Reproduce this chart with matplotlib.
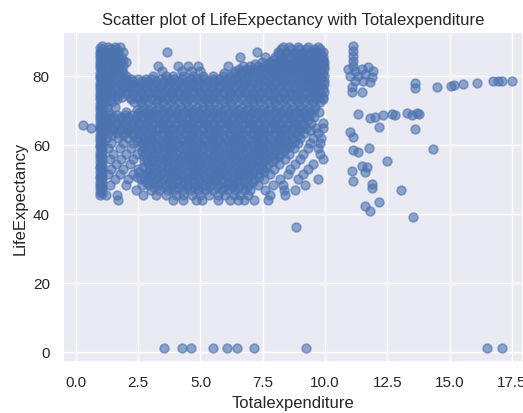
import matplotlib
matplotlib.use("Agg")
import matplotlib.pyplot as plt
import seaborn as sns

# life expectancy row -> total expenditure values
upper_rows = {
    88.5: [1.3, 1.55, 1.75, 8.3, 8.55, 8.9, 9.3, 9.7],
    87.75: [1.35, 1.6, 8.25, 8.65, 8.95, 9.25, 9.55, 9.8],
    87.0: [1.2, 1.45, 1.7, 1.9, 3.64, 7.26, 8.1, 8.45, 8.8, 9.1, 9.4, 9.65, 9.9],
    86.25: [1.35, 1.65, 8.15, 8.45, 8.75, 9.05, 9.3, 9.6, 9.85],
    85.5: [1.25, 1.5, 1.8, 6.59, 7.59, 8.0, 8.3, 8.6, 8.9, 9.15, 9.45, 9.7, 9.9],
    84.75: [1.35, 1.65, 1.9, 7.9, 8.25, 8.55, 8.85, 9.1, 9.4, 9.65, 9.9],
    84.0: [1.2, 1.5, 1.75, 2.0, 7.45, 7.8, 8.1, 8.4, 8.7, 8.95, 9.25, 9.5, 9.75, 9.95],
    83.4: [1.45, 1.75, 7.2, 7.7, 8.0, 8.25, 8.55, 8.85, 9.15, 9.45, 9.7, 9.9],
    82.8: [1.3, 1.6, 1.9, 3.3, 4.1, 4.5, 4.9, 6.12, 6.7, 7.0, 7.3, 7.55, 7.85, 8.1, 8.4,
           8.7, 9.0, 9.3, 9.55, 9.8, 9.95],
    82.1: [1.4, 1.7, 6.55, 6.85, 7.15, 7.45, 7.75, 8.05, 8.35, 8.65, 8.95, 9.25, 9.5,
           9.75, 9.95],
    81.5: [1.25, 1.55, 1.85, 3.45, 4.25, 4.6, 5.0, 6.4, 6.7, 7.0, 7.3, 7.6, 7.9, 8.2,
           8.5, 8.8, 9.1, 9.35, 9.6, 9.85],
    80.75: [1.35, 1.6, 1.9, 5.95, 6.35, 6.65, 6.95, 7.25, 7.55, 7.9, 8.15, 8.45, 8.8,
            9.05, 9.35, 9.65, 9.9],
    80.0: [1.2, 1.45, 1.75, 2.0, 3.1, 3.6, 3.9, 4.3, 4.7, 5.1, 5.5, 5.9, 6.2, 6.5, 6.85,
           7.1, 7.4, 7.75, 8.0, 8.3, 8.65, 8.9, 9.2, 9.5, 9.75, 9.95],
}

middle_rows = {
    79.25: [1.35, 1.65, 1.95, 2.2, 2.5, 2.8, 3.05, 3.4, 3.7, 3.95, 4.25, 4.6, 4.85, 5.15,
            5.5, 5.75, 6.05, 6.4, 6.65, 6.95, 7.3, 7.55, 7.85, 8.2, 8.45, 8.75, 9.1,
            9.35, 9.6, 9.85],
    78.5: [1.25, 1.5, 1.8, 2.05, 2.3, 2.65, 2.9, 3.2, 3.55, 3.8, 4.1, 4.45, 4.7, 5.0,
           5.35, 5.6, 5.9, 6.25, 6.5, 6.8, 7.15, 7.4, 7.7, 8.05, 8.3, 8.6, 8.95, 9.2,
           9.5, 9.7, 9.95],
    77.75: [1.2, 1.45, 1.75, 2.05, 2.3, 2.6, 2.9, 3.2, 3.5, 3.75, 4.1, 4.4, 4.65, 5.0,
            5.3, 5.55, 5.9, 6.2, 6.45, 6.8, 7.1, 7.35, 7.7, 8.0, 8.25, 8.6, 8.9, 9.15,
            9.45, 9.75, 9.95],
    77.0: [1.3, 1.6, 1.9, 2.2, 2.45, 2.75, 3.05, 3.35, 3.7, 3.95, 4.25, 4.55, 4.85, 5.2,
           5.45, 5.75, 6.05, 6.35, 6.7, 6.95, 7.25, 7.55, 7.85, 8.2, 8.45, 8.75, 9.05,
           9.35, 9.6, 9.85],
    76.25: [1.35, 1.6, 1.9, 2.2, 2.5, 2.8, 3.1, 3.35, 3.65, 3.95, 4.25, 4.55, 4.9, 5.15,
            5.45, 5.75, 6.05, 6.35, 6.65, 6.95, 7.25, 7.6, 7.85, 8.15, 8.5, 8.75, 9.05,
            9.35, 9.65, 9.9],
    75.5: [1.2, 1.45, 1.75, 2.05, 2.35, 2.6, 2.95, 3.2, 3.5, 3.85, 4.1, 4.4, 4.75, 5.0,
           5.3, 5.65, 5.9, 6.2, 6.55, 6.8, 7.1, 7.45, 7.7, 8.0, 8.35, 8.6, 8.9, 9.25,
           9.5, 9.75, 9.95],
    74.75: [1.2, 1.45, 1.7, 2.0, 2.3, 2.65, 2.9, 3.2, 3.5, 3.8, 4.15, 4.4, 4.7, 5.0,
            5.3, 5.6, 5.9, 6.2, 6.5, 6.85, 7.1, 7.4, 7.7, 8.0, 8.3, 8.65, 8.9, 9.2,
            9.5, 9.8],
    74.0: [1.3, 1.6, 1.85, 2.15, 2.5, 2.75, 3.05, 3.4, 3.65, 3.95, 4.3, 4.55, 4.85, 5.2,
           5.45, 5.75, 6.1, 6.35, 6.65, 7.0, 7.25, 7.55, 7.9, 8.15, 8.45, 8.8, 9.05,
           9.35, 9.65, 9.9],
    73.25: [1.35, 1.65, 2.2, 2.5, 2.75, 3.05, 3.35, 3.65, 3.95, 4.3, 4.55, 4.85, 5.2,
            5.45, 5.75, 6.05, 6.35, 6.65, 7.0, 7.25, 7.55, 7.9, 8.15, 8.45, 8.8, 9.05,
            9.35, 9.65, 9.9],
    72.5: [1.2, 1.45, 2.35, 2.6, 2.9, 3.25, 3.5, 3.8, 4.15, 4.4, 4.7, 5.05, 5.3, 5.6,
           5.95, 6.2, 6.5, 6.85, 7.1, 7.4, 7.75, 8.0, 8.3, 8.65, 8.9, 9.2, 9.5, 9.8],
    71.0: [1.25, 1.55, 2.7, 3.0, 3.3, 3.6, 3.95, 4.2, 4.5, 4.85, 5.1, 5.4, 5.75, 6.0,
           6.3, 6.65, 6.9, 7.2, 7.55, 7.8, 8.1, 8.45, 8.7, 9.0, 9.3, 9.6],
    70.25: [2.45, 2.65, 2.95, 3.25, 3.55, 3.85, 4.15, 4.45, 4.75, 5.05, 5.35, 5.65,
            5.95, 6.25, 6.55, 6.85, 7.15, 7.45, 7.75, 8.05, 8.35, 8.65, 8.95, 9.25,
            9.55],
    69.5: [1.3, 2.0, 2.55, 2.8, 3.1, 3.45, 3.7, 4.0, 4.35, 4.6, 4.9, 5.25, 5.5, 5.8,
           6.15, 6.4, 6.7, 7.05, 7.3, 7.6, 7.95, 8.2, 8.5, 8.85, 9.1, 9.4, 9.75],
    68.75: [1.35, 1.65, 1.95, 2.25, 2.55, 2.85, 3.1, 3.4, 3.75, 4.0, 4.3, 4.65, 4.9,
            5.2, 5.5, 5.8, 6.1, 6.45, 6.7, 7.0, 7.3, 7.6, 7.9, 8.25, 8.5, 8.8, 9.1, 9.4],
    68.0: [1.2, 1.5, 1.8, 2.1, 2.4, 2.7, 2.95, 3.25, 3.6, 3.85, 4.15, 4.5, 4.75, 5.05,
           5.4, 5.65, 5.95, 6.3, 6.55, 6.85, 7.2, 7.45, 7.75, 8.1, 8.35, 8.65, 9.0,
           9.25, 9.55],
    67.25: [1.2, 1.45, 1.75, 2.05, 2.35, 2.65, 2.95, 3.3, 3.55, 3.85, 4.2, 4.45, 4.75,
            5.1, 5.35, 5.65, 6.0, 6.25, 6.55, 6.9, 7.15, 7.45, 7.8, 8.05, 8.35, 8.7,
            8.95, 9.3],
    66.5: [1.3, 1.6, 1.9, 2.25, 2.5, 2.8, 3.15, 3.4, 3.7, 4.05, 4.3, 4.6, 4.95, 5.2,
           5.5, 5.85, 6.1, 6.4, 6.75, 7.0, 7.3, 7.65, 7.9, 8.2, 8.55, 8.8, 9.1, 9.45,
           9.9],
    65.75: [1.35, 1.65, 1.95, 2.25, 2.55, 2.8, 3.1, 3.45, 3.7, 4.0, 4.35, 4.6, 4.9,
            5.25, 5.5, 5.8, 6.15, 6.4, 6.7, 7.05, 7.3, 7.6, 7.95, 8.2, 8.5, 8.85, 9.1],
    65.0: [1.2, 1.5, 1.8, 2.1, 2.4, 2.65, 2.95, 3.3, 3.55, 3.85, 4.2, 4.45, 4.75, 5.1,
           5.35, 5.65, 6.0, 6.25, 6.55, 6.9, 7.15, 7.45, 7.8, 8.05, 8.35, 8.7, 8.95,
           9.25, 9.65, 9.9],
    64.25: [1.2, 1.5, 1.8, 2.1, 2.4, 2.7, 3.0, 3.25, 3.6, 3.85, 4.15, 4.5, 4.75, 5.05,
            5.4, 5.65, 5.95, 6.3, 6.55, 6.85, 7.2, 7.45, 7.75, 8.1, 8.35, 8.65, 9.0, 9.4],
    63.5: [1.3, 1.65, 1.95, 2.25, 2.55, 2.85, 3.1, 3.45, 3.75, 4.0, 4.35, 4.65, 4.9,
           5.25, 5.55, 5.8, 6.15, 6.45, 6.7, 7.05, 7.35, 7.6, 7.95, 8.25, 8.5, 8.85,
           9.15, 9.7],
    62.75: [1.45, 1.9, 2.3, 2.6, 2.9, 3.15, 3.5, 3.75, 4.05, 4.4, 4.65, 4.95, 5.3, 5.55,
            5.85, 6.2, 6.45, 6.75, 7.1, 7.35, 7.65, 8.0, 8.25, 8.55, 8.9],
    62.0: [1.25, 1.7, 2.1, 2.45, 2.75, 3.0, 3.3, 3.65, 3.9, 4.2, 4.55, 4.8, 5.1, 5.45,
           5.7, 6.0, 6.35, 6.6, 6.9, 7.25, 7.5, 7.8, 8.15, 8.4, 8.7, 9.0, 9.5, 9.85],
    61.25: [2.45, 2.8, 3.05, 3.4, 3.7, 3.95, 4.3, 4.55, 4.85, 5.2, 5.45, 5.75, 6.1,
            6.35, 6.65, 7.0, 7.25, 7.55, 7.9, 8.15, 8.45, 8.8],
    60.5: [1.4, 1.9, 2.3, 2.65, 2.9, 3.2, 3.55, 3.8, 4.1, 4.45, 4.7, 5.0, 5.35, 5.6,
           5.9, 6.25, 6.5, 6.8, 7.15, 7.4, 7.7, 8.05, 8.3, 8.6, 8.9, 9.4, 9.8],
}

lower_rows = {
    59.75: [2.6, 2.9, 3.2, 3.5, 3.8, 4.1, 4.4, 4.7, 5.0, 5.3, 5.6, 5.9, 6.2, 6.55, 6.8,
            7.1, 7.4, 7.7, 8.0, 8.35, 8.6],
    59.0: [1.3, 1.75, 2.2, 2.75, 3.05, 3.35, 3.7, 3.95, 4.25, 4.6, 4.85, 5.15, 5.5,
           5.75, 6.05, 6.4, 6.65, 6.95, 7.3, 7.55, 7.85, 8.2, 8.45, 8.75, 9.3, 9.7],
    58.25: [2.65, 2.95, 3.25, 3.55, 3.85, 4.15, 4.45, 4.75, 5.05, 5.35, 5.65, 5.95,
            6.25, 6.55, 6.85, 7.15, 7.45, 7.75, 8.05, 8.35],
    57.5: [1.5, 2.0, 2.45, 2.8, 3.1, 3.45, 3.7, 4.0, 4.35, 4.6, 4.9, 5.25, 5.5, 5.8,
           6.15, 6.4, 6.7, 7.05, 7.3, 7.6, 7.95, 8.2, 8.55, 9.1, 9.8],
    56.75: [2.7, 3.0, 3.3, 3.6, 3.9, 4.25, 4.5, 4.8, 5.1, 5.45, 5.7, 6.0, 6.3, 6.6,
            6.95, 7.2, 7.5, 7.85, 8.15],
    56.0: [1.35, 1.8, 2.3, 2.85, 3.15, 3.5, 3.75, 4.05, 4.4, 4.65, 4.95, 5.3, 5.55,
           5.85, 6.2, 6.45, 6.75, 7.1, 7.35, 7.65, 8.0, 8.4, 9.0, 9.9],
    55.25: [2.75, 3.05, 3.35, 3.65, 3.95, 4.25, 4.55, 4.85, 5.15, 5.45, 5.75, 6.05,
            6.35, 6.65, 6.95, 7.25, 7.55, 7.9],
    54.5: [1.6, 2.15, 2.9, 3.2, 3.5, 3.85, 4.1, 4.4, 4.75, 5.0, 5.3, 5.65, 5.9, 6.2,
           6.55, 6.8, 7.1, 7.45, 7.7, 8.15, 8.8, 9.5],
    53.75: [2.7, 3.1, 3.4, 3.7, 4.0, 4.3, 4.6, 4.9, 5.2, 5.5, 5.8, 6.1, 6.4, 6.7, 7.0,
            7.3, 7.65],
    53.0: [1.4, 1.9, 2.5, 2.95, 3.25, 3.6, 3.85, 4.15, 4.5, 4.75, 5.05, 5.4, 5.65,
           5.95, 6.3, 6.55, 6.85, 7.2, 7.45, 7.95, 8.6, 9.3],
    52.25: [2.55, 2.95, 3.25, 3.55, 3.85, 4.15, 4.45, 4.75, 5.05, 5.35, 5.65, 5.95,
            6.25, 6.55, 6.85, 7.15, 7.55],
    51.5: [1.3, 1.75, 2.3, 2.8, 3.1, 3.4, 3.75, 4.0, 4.3, 4.65, 4.9, 5.2, 5.55, 5.8,
           6.1, 6.45, 6.7, 7.0, 7.35, 7.8, 8.5, 9.1],
    50.75: [2.45, 2.75, 3.05, 3.35, 3.65, 3.95, 4.25, 4.55, 4.85, 5.15, 5.45, 5.75,
            6.05, 6.35, 6.65, 6.95, 7.35],
    50.0: [1.55, 2.1, 2.6, 2.9, 3.2, 3.55, 3.8, 4.1, 4.45, 4.7, 5.0, 5.35, 5.6, 5.9,
           6.25, 6.5, 6.8, 7.15, 7.55, 8.2, 8.9, 9.7],
    49.25: [2.8, 3.1, 3.4, 3.75, 4.05, 4.35, 4.65, 4.95, 5.25, 5.55, 5.85, 6.15, 6.45,
            6.75, 7.1],
    48.5: [1.35, 2.0, 2.65, 2.95, 3.3, 3.6, 3.9, 4.25, 4.5, 4.8, 5.15, 5.4, 5.7, 6.05,
           6.3, 6.6, 6.95, 7.3, 7.9, 8.3, 9.2],
    47.75: [3.15, 3.5, 3.8, 4.1, 4.45, 4.75, 5.05, 5.35, 5.65, 5.95, 6.25, 6.55, 6.85],
    47.0: [2.4, 3.0, 3.35, 3.7, 3.95, 4.3, 4.6, 4.9, 5.2, 5.5, 5.85, 6.1, 6.4, 6.75,
           7.0, 7.6, 8.35, 8.8],
    45.5: [1.2, 1.65, 2.7, 3.2, 3.6, 4.0, 4.3, 4.65, 5.0, 5.35, 5.7, 6.0, 6.35, 6.6,
           6.9, 7.8, 8.4],
    44.0: [1.7, 3.9, 4.3, 4.8, 5.05, 5.7, 6.2, 6.5, 6.75, 7.15, 7.7],
    36.2: [8.83],
}

# countries reporting about 1% expenditure: total expenditure -> life expectancy
band_cols = {
    0.98: [45.6, 46.4, 47.5, 48.3, 49.2, 50.4, 51.1, 52.3, 53.2, 54.0, 55.1, 56.2,
           57.0, 58.1, 59.3, 60.0, 61.2, 62.1, 63.0, 64.2, 65.1, 66.0, 67.2, 68.1,
           69.0, 70.2, 71.1, 72.0, 73.3, 74.1, 75.0, 76.2, 77.1, 78.0, 79.3, 80.1,
           81.0, 82.2, 83.1, 84.0, 85.2, 86.1, 87.0, 88.2],
    1.06: [46.0, 47.1, 47.9, 48.8, 50.0, 50.7, 51.8, 52.7, 53.6, 54.6, 55.7, 56.6,
           57.6, 58.7, 59.6, 60.7, 61.6, 62.6, 63.6, 64.7, 65.6, 66.5, 67.7, 68.6,
           69.6, 70.6, 71.5, 72.6, 73.7, 74.6, 75.6, 76.6, 77.6, 78.6, 79.7, 80.6,
           81.6, 82.7, 83.6, 84.6, 85.6, 86.6, 87.6, 88.6],
}

left_x = [0.29, 0.6]
left_y = [65.8, 65.0]

right_x = [11.13, 11.13, 11.13, 11.13, 11.13, 10.94, 11.2, 11.47, 11.73, 11.94, 11.0,
           11.34, 11.61, 11.87, 11.2, 11.54, 11.81, 11.07, 11.07, 11.5,
           13.61, 13.61, 14.49, 15.05, 15.18, 15.53, 16.09, 16.76, 16.96, 17.1, 17.5,
           11.34, 11.81, 12.01, 12.34, 12.68, 12.81, 13.28, 13.48, 13.68, 13.79,
           12.18, 13.61, 11.0, 11.14, 11.14, 11.34, 11.78, 14.32, 11.47, 11.67, 11.61,
           11.07, 11.14, 12.5, 11.87, 11.87, 13.05, 12.18, 11.61, 11.81, 13.55]
right_y = [88.8, 87.3, 85.9, 84.4, 83.0, 82.0, 81.5, 82.0, 82.5, 81.5, 80.1,
           80.1, 80.6, 79.6, 78.6, 78.6, 78.2, 76.7, 75.3, 75.3,
           77.9, 76.5, 76.7, 77.2, 77.4, 77.7, 77.9, 78.6, 78.6, 78.5, 78.5,
           69.0, 67.8, 68.0, 68.8, 69.0, 68.8, 69.2, 68.8, 69.2, 69.0,
           65.1, 64.6, 63.7, 62.2, 58.6, 57.9, 59.1, 58.8, 54.0, 53.5, 52.1,
           52.6, 49.7, 55.5, 48.7, 47.5, 47.0, 43.4, 42.4, 40.8, 39.2]

zero_x = [3.53, 4.26, 4.62, 5.5, 6.06, 6.47, 7.15, 9.24, 16.49, 17.12]
zero_y = [1.3, 1.3, 1.3, 1.3, 1.3, 1.3, 1.3, 1.3, 1.3, 1.3]


def from_rows(rows):
    xs, ys = [], []
    for life, spend in rows.items():
        xs += spend
        ys += [life] * len(spend)
    return xs, ys


def from_cols(cols):
    xs, ys = [], []
    for spend, lifes in cols.items():
        xs += [spend] * len(lifes)
        ys += lifes
    return xs, ys


sns.set()
plt.rcParams['font.family'] = ['Liberation Sans', 'DejaVu Sans']

x, y = [], []
for part in (from_rows(upper_rows), from_rows(middle_rows), from_rows(lower_rows),
             from_cols(band_cols), (left_x, left_y), (right_x, right_y),
             (zero_x, zero_y)):
    x += list(part[0])
    y += list(part[1])

fig = plt.figure(figsize=(5.23, 4.14), dpi=100)
ax = fig.add_axes([0.1205, 0.1232, 0.8795, 0.7971])
ax.scatter(x, y, s=40, color='#4C72B0', alpha=0.6, linewidths=1.2)
ax.set_xlim(-0.52, 17.95)
ax.set_ylim(-2.9, 92.75)
ax.set_xlabel('Totalexpenditure')
ax.set_ylabel('LifeExpectancy')
ax.set_title('Scatter plot of LifeExpectancy with Totalexpenditure')
fig.savefig('out.png', dpi=100)
